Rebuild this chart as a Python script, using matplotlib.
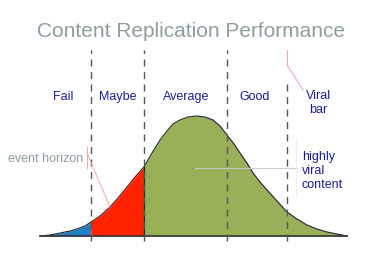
import numpy as np
import matplotlib
matplotlib.use("Agg")
import matplotlib.pyplot as plt
from matplotlib import font_manager

plt.rcParams["font.family"] = ["Liberation Sans", "DejaVu Sans"]

# Curve (score position, height above baseline)
score = np.array([40, 50, 60, 70, 77, 85, 91, 100, 110, 118, 127, 135, 144,
                  152, 160, 167, 173, 180, 188, 197, 205, 213, 220, 227, 234,
                  240, 247, 253, 260, 267, 277, 287, 297, 307, 317, 327, 337, 347])
height = np.array([0, 1, 3, 5, 7, 10, 14, 20, 29, 38, 49, 59, 69,
                   83, 96, 105, 112, 116, 119, 120, 119, 116, 110, 101, 92,
                   83, 73, 63, 54, 46, 35, 24, 17, 11, 7, 4, 2, 0])

# Band boundaries (dashed lines)
bounds = [91, 144, 227, 287]
band_labels = ["Fail", "Maybe", "Average", "Good"]
band_centers = [63, 118, 186, 255]

title = "Content Replication Performance"

blue_col = "#1f7ec4"
red_col = "#ff2200"
green_col = "#98b058"
label_col = "#1a1c9c"
grey_text = "#8c9f9f"
pink = "#f2a8a8"

# narrow face for the labels if available
installed = {f.name for f in font_manager.fontManager.ttflist}
if "Liberation Sans Narrow" in installed:
    lab_font = dict(family="Liberation Sans Narrow", fontsize=10.3)
else:
    lab_font = dict(family="Liberation Sans", fontsize=9)

fig = plt.figure(figsize=(3.77, 2.67), dpi=100)
ax = fig.add_axes([0, 0, 1, 1])
ax.set_xlim(0, 377)
ax.set_ylim(-31, 236)
ax.axis("off")

# filled regions under the curve
ax.fill_between(score, height, where=score <= bounds[0], color=blue_col, lw=0)
ax.fill_between(score, height, where=(score >= bounds[0]) & (score <= bounds[1]),
                color=red_col, lw=0)
ax.fill_between(score, height, where=score >= bounds[1], color=green_col, lw=0)
ax.plot(score, height, color="#222222", lw=0.8)
ax.plot([bounds[1], bounds[1]], [0, height[score == bounds[1]][0]],
        color="#222222", lw=0.8)

# baseline
ax.plot([score[0], score[-1]], [0, 0], color="#333333", lw=1.2)

# dashed band lines (the last one starts below the viral bar pointer)
for b in bounds[:-1]:
    ax.plot([b, b], [-5, 186], color="#555555", lw=1, dashes=(5, 4))
ax.plot([bounds[-1], bounds[-1]], [-5, 152], color="#555555", lw=1, dashes=(5, 4))

# title
ax.text(191, 199, title, ha="center", va="baseline", fontsize=15,
        color=grey_text)

for lab, cx in zip(band_labels, band_centers):
    ax.text(cx, 136, lab, ha="center", va="baseline", color=label_col, **lab_font)

ax.text(318, 137, "Viral", ha="center", va="baseline", color=label_col, **lab_font)
ax.text(318, 123, "bar", ha="center", va="baseline", color=label_col, **lab_font)

for i, line in enumerate(["highly", "viral", "content"]):
    ax.text(302, 76 - 14 * i, line, ha="left", va="baseline", color=label_col,
            **lab_font)

ax.text(46, 74, "event horizon", ha="center", va="baseline", color=grey_text,
        **lab_font)

# pointer lines
ax.plot([87, 87], [89, 68], color=pink, lw=0.7)
ax.plot([87, 110], [83, 29], color=pink, lw=0.7)
ax.plot([287, 287], [186, 171], color=pink, lw=0.8)
ax.plot([287, 303], [171, 146], color=pink, lw=0.8)
ax.plot([195, 297], [68, 68], color="#cccccc", lw=0.7)
ax.plot([296, 296], [96, 41], color="#eeeeee", lw=0.7)

fig.savefig("out.png", dpi=100)
